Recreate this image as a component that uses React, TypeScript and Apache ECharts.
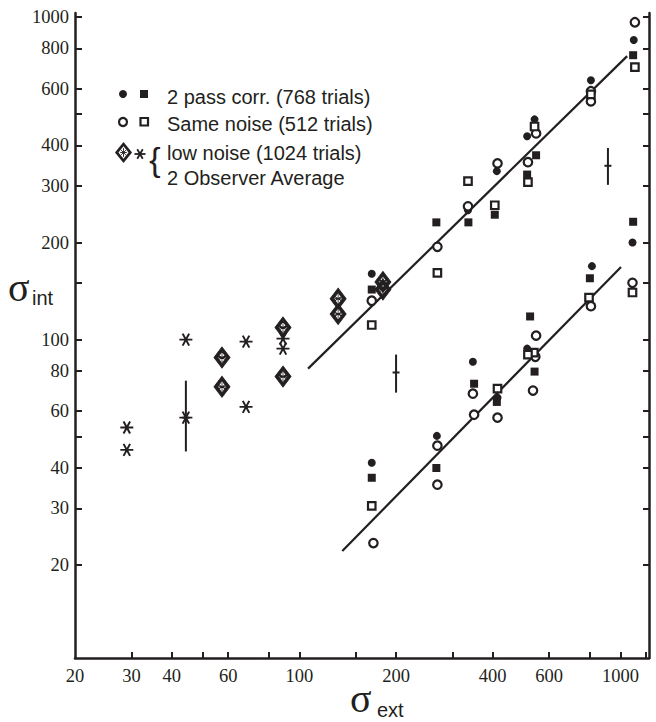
import React, { useEffect, useRef } from "react";
import * as echarts from "echarts";

// ---- axis ticks and labels ----
const xTickValues = [30, 40, 50, 60, 80, 100, 150, 200, 300, 400, 600, 800, 1000, 1200];
const xLabelValues = [20, 30, 40, 60, 100, 200, 400, 600, 1000];
const yTickValues = [20, 30, 40, 50, 60, 80, 100, 150, 200, 300, 400, 500, 600, 800, 1000];
const yLabelValues = [20, 30, 40, 60, 80, 100, 200, 300, 400, 600, 800, 1000];
const xRange = [20, 1227];
const yRange = [10.3, 1030];

// ---- 2 pass corr. (768 trials) ----
const passCorrCircles = [
  [168, 160], [335, 252], [412, 333], [540, 482], [512, 427], [809, 637], [1100, 849],
  [168, 41.5], [268, 50.3], [347, 85.4], [414, 66.1], [512, 93.8], [815, 169], [1090, 200],
];
const passCorrSquares = [
  [168, 143], [267, 231], [336, 231], [406, 244], [546, 373], [512, 325], [1095, 762],
  [168, 37.3], [267, 40.0], [350, 73.0], [412, 64.1], [523, 118], [540, 79.6], [803, 155], [1095, 232],
];
// ---- Same noise (512 trials) ----
const sameNoiseCircles = [
  [168, 132], [269, 194], [335, 259], [414, 352], [546, 436], [515, 355], [809, 589], [809, 548], [1109, 964],
  [170, 23.4], [269, 46.9], [269, 35.5], [347, 68.0], [350, 58.5], [414, 57.3], [546, 102.9], [543, 88.5],
  [534, 69.5], [809, 127], [1090, 150],
];
const sameNoiseSquares = [
  [168, 111], [269, 161], [335, 310], [406, 261], [540, 458], [515, 308], [809, 576], [1109, 700],
  [168, 30.5], [414, 70.5], [537, 91.1], [515, 89.8], [798, 135], [1090, 140],
];
// ---- low noise (1024 trials) / 2 Observer Average ----
const lowNoiseDiamonds = [
  [57.4, 88.0], [57.4, 71.4], [88.9, 109], [88.9, 76.8], [132, 134], [132, 120], [182, 151], [182, 143],
];
const observerAverage = [
  [29.0, 53.4], [29.0, 45.5], [44.3, 100], [44.3, 57.3], [68.2, 98.6], [68.2, 61.9], [88.9, 100.7], [88.9, 93.8],
];
// [x, low, high, centre]
const errorBars = [
  [44.3, 45.0, 74.6, 57.3],
  [200, 68.5, 89.9, 79.1],
  [914, 302, 393, 346],
];
// fitted lines
const fitUpper = [[106.4, 81.3], [1049, 757]];
const fitLower = [[136, 22.1], [1004, 168]];

const legendRows = [
  "2 pass corr. (768 trials)",
  "Same noise (512 trials)",
  "low noise (1024 trials)",
  "2 Observer Average",
];

const INK = "#231f20";
const SANS = "Liberation Sans, Arial, sans-serif";
const SERIF = "Liberation Serif, Times New Roman, serif";

const DIAMOND_PATH =
  "path://M0,-10L7,0L0,10L-7,0Z M0,-5.8L-3.9,0L0,5.8L3.9,0Z M0,-4.2L0,4.2 M-3,-2.1L3,2.1 M-3,2.1L3,-2.1 M-3,0L3,0";
const ASTERISK_PATH = "path://M-6,0L6,0 M-3,-5.2L3,5.2 M-3,5.2L3,-5.2";

function legendDiamond(cx: number, cy: number) {
  return {
    type: "group",
    x: cx,
    y: cy,
    children: [
      { type: "polygon", shape: { points: [[0, -10.5], [8.5, 0], [0, 10.5], [-8.5, 0]] }, style: { fill: INK } },
      { type: "polygon", shape: { points: [[0, -6.3], [5, 0], [0, 6.3], [-5, 0]] }, style: { fill: "#fff" } },
      { type: "line", shape: { x1: 0, y1: -4.4, x2: 0, y2: 4.4 }, style: { stroke: INK, lineWidth: 0.9 } },
      { type: "line", shape: { x1: -3.3, y1: 0, x2: 3.3, y2: 0 }, style: { stroke: INK, lineWidth: 0.9 } },
      { type: "line", shape: { x1: -2.4, y1: -2.4, x2: 2.4, y2: 2.4 }, style: { stroke: INK, lineWidth: 0.9 } },
      { type: "line", shape: { x1: -2.4, y1: 2.4, x2: 2.4, y2: -2.4 }, style: { stroke: INK, lineWidth: 0.9 } },
    ],
  };
}

function legendAsterisk(cx: number, cy: number) {
  const r = 5.5;
  const arms = [0, 60, 120].map((deg) => {
    const a = (deg * Math.PI) / 180;
    return {
      type: "line",
      shape: { x1: -r * Math.cos(a), y1: -r * Math.sin(a), x2: r * Math.cos(a), y2: r * Math.sin(a) },
      style: { stroke: INK, lineWidth: 1.8 },
    };
  });
  return { type: "group", x: cx, y: cy, children: arms };
}

export default function App() {
  const ref = useRef<HTMLDivElement>(null);

  useEffect(() => {
    if (!ref.current) return;
    const chart = echarts.init(ref.current, undefined, { renderer: "svg" });

    const axisCommon = {
      type: "log",
      logBase: 10,
      splitLine: { show: false },
      minorTick: { show: false },
      minorSplitLine: { show: false },
      axisLine: { show: true, lineStyle: { color: INK, width: 2.5 } },
    };

    const rowY = [97, 124, 152.5, 177.5];
    const solid = { color: INK, opacity: 1 };
    const hollow = { color: "#ffffff", borderColor: INK, borderWidth: 2.2, opacity: 1 };

    const option: any = {
      animation: false,
      backgroundColor: "#ffffff",
      grid: { left: 75, right: 7, top: 13, bottom: 64, containLabel: false, outerBoundsMode: "none" },
      xAxis: {
        ...axisCommon,
        min: xRange[0],
        max: xRange[1],
        axisTick: { show: true, inside: true, length: 6, lineStyle: { color: INK, width: 2 }, customValues: xTickValues },
        axisLabel: {
          show: true,
          customValues: xLabelValues,
          margin: 8,
          color: INK,
          fontFamily: SERIF,
          fontSize: 18.5,
          formatter: (v: number) => String(Math.round(v)),
        },
      },
      yAxis: [
        {
          ...axisCommon,
          position: "left",
          min: yRange[0],
          max: yRange[1],
          axisTick: { show: true, inside: true, length: 7, lineStyle: { color: INK, width: 2 }, customValues: yTickValues },
          axisLabel: {
            show: true,
            customValues: yLabelValues,
            margin: 6,
            color: INK,
            fontFamily: SERIF,
            fontSize: 18.5,
            formatter: (v: number) => String(Math.round(v)),
          },
        },
        {
          ...axisCommon,
          position: "right",
          min: yRange[0],
          max: yRange[1],
          axisTick: { show: true, inside: true, length: 6, lineStyle: { color: INK, width: 2 }, customValues: yTickValues },
          axisLabel: { show: false },
        },
      ],
      series: [
        {
          type: "line",
          data: fitUpper,
          symbol: "none",
          lineStyle: { color: INK, width: 2.2, opacity: 1 },
          z: 1,
        },
        {
          type: "line",
          data: fitLower,
          symbol: "none",
          lineStyle: { color: INK, width: 2.2, opacity: 1 },
          z: 1,
        },
        {
          type: "custom",
          data: errorBars,
          encode: { x: 0, y: [1, 2, 3] },
          z: 2,
          renderItem: (_params: any, api: any) => {
            const x = api.value(0);
            const lo = api.coord([x, api.value(1)]);
            const hi = api.coord([x, api.value(2)]);
            const mid = api.coord([x, api.value(3)]);
            return {
              type: "group",
              children: [
                { type: "line", shape: { x1: lo[0], y1: lo[1], x2: hi[0], y2: hi[1] }, style: { stroke: INK, lineWidth: 2 } },
                { type: "line", shape: { x1: mid[0] - 3.5, y1: mid[1], x2: mid[0] + 3.5, y2: mid[1] }, style: { stroke: INK, lineWidth: 2 } },
              ],
            };
          },
        },
        {
          name: "2 pass corr. circles",
          type: "scatter",
          data: passCorrCircles,
          symbol: "circle",
          symbolSize: 8,
          itemStyle: solid,
          z: 3,
        },
        {
          name: "2 pass corr. squares",
          type: "scatter",
          data: passCorrSquares,
          symbol: "rect",
          symbolSize: 8,
          itemStyle: solid,
          z: 3,
        },
        {
          name: "Same noise circles",
          type: "scatter",
          data: sameNoiseCircles,
          symbol: "circle",
          symbolSize: 8.5,
          itemStyle: hollow,
          z: 4,
        },
        {
          name: "Same noise squares",
          type: "scatter",
          data: sameNoiseSquares,
          symbol: "rect",
          symbolSize: 7.5,
          itemStyle: hollow,
          z: 4,
        },
        {
          name: "low noise",
          type: "scatter",
          data: lowNoiseDiamonds,
          symbol: DIAMOND_PATH,
          symbolSize: [16, 21],
          itemStyle: { color: INK, borderColor: INK, borderWidth: 0.9, opacity: 1 },
          z: 5,
        },
        {
          name: "2 Observer Average",
          type: "scatter",
          data: observerAverage,
          symbol: ASTERISK_PATH,
          symbolSize: [13, 12],
          itemStyle: { color: "transparent", borderColor: INK, borderWidth: 1.9, opacity: 1 },
          z: 5,
        },
      ],
      graphic: [
        // legend markers
        { type: "circle", shape: { cx: 123, cy: 94, r: 4 }, style: { fill: INK } },
        { type: "rect", shape: { x: 140, y: 90, width: 8, height: 8 }, style: { fill: INK } },
        { type: "circle", shape: { cx: 123, cy: 122, r: 4 }, style: { fill: "#fff", stroke: INK, lineWidth: 2.2 } },
        { type: "rect", shape: { x: 140.5, y: 118, width: 7.5, height: 7.5 }, style: { fill: "#fff", stroke: INK, lineWidth: 2.2 } },
        legendDiamond(123.5, 152.5),
        legendAsterisk(140, 154),
        {
          type: "text",
          x: 155,
          y: 159,
          style: { text: "{", fontFamily: SANS, fontSize: 34, fill: INK, align: "center", verticalAlign: "middle" },
        },
        ...legendRows.map((t, i) => ({
          type: "text",
          x: 167,
          y: rowY[i],
          style: { text: t, fontFamily: SANS, fontSize: 20, fill: INK, align: "left", verticalAlign: "middle" },
        })),
        // axis titles
        {
          type: "text",
          x: 350,
          y: 698,
          style: { text: "σ", fontFamily: SERIF, fontSize: 40, fill: INK, align: "left", verticalAlign: "middle" },
        },
        {
          type: "text",
          x: 377,
          y: 710,
          style: { text: "ext", fontFamily: SANS, fontSize: 20, fill: INK, align: "left", verticalAlign: "middle" },
        },
        {
          type: "text",
          x: 8,
          y: 287,
          style: { text: "σ", fontFamily: SERIF, fontSize: 40, fill: INK, align: "left", verticalAlign: "middle" },
        },
        {
          type: "text",
          x: 32,
          y: 298,
          style: { text: "int", fontFamily: SANS, fontSize: 20, fill: INK, align: "left", verticalAlign: "middle" },
        },
      ],
    };

    chart.setOption(option);
    return () => chart.dispose();
  }, []);

  return (
    <div
      ref={ref}
      style={{ position: "absolute", left: 0, top: 0, width: 656, height: 722, background: "#fff" }}
    />
  );
}
